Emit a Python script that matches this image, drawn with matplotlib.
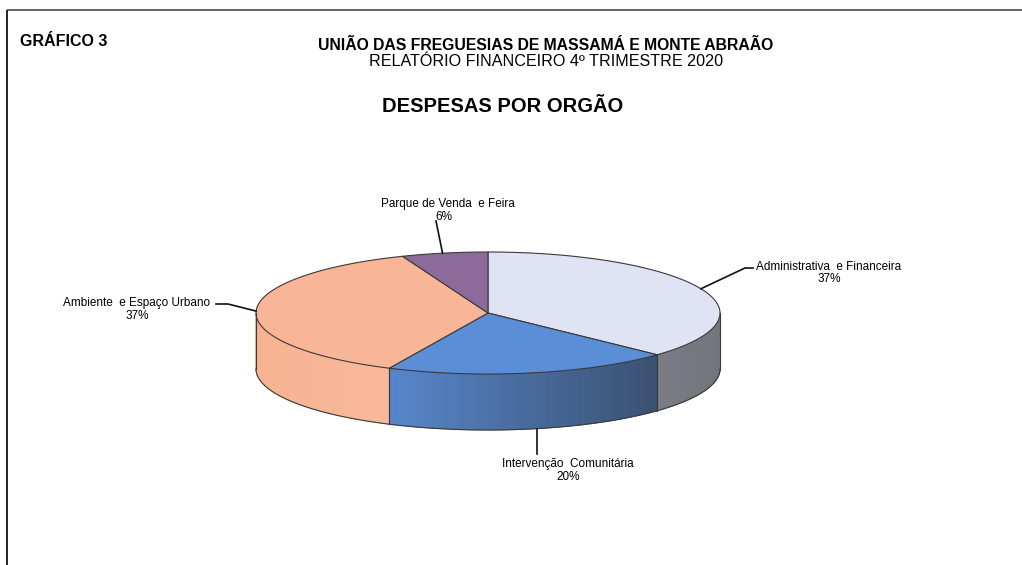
import numpy as np
import matplotlib
matplotlib.use("Agg")
import matplotlib.pyplot as plt
from matplotlib.patches import Polygon
from matplotlib.colors import to_rgb

# Expense shares by department (%)
labels = ["Administrativa  e Financeira", "Intervenção  Comunitária",
          "Ambiente  e Espaço Urbano", "Parque de Venda  e Feira"]
shares = [37, 20, 37, 6]
pct_labels = ["37%", "20%", "37%", "6%"]

top_colors = ["#dfe3f4", "#5a8fd7", "#f8b598", "#8c6b9a"]
# (left, right) colours of each slice's outer wall
side_colors = [("#7c7c86", "#74747c"), ("#5686cc", "#3a5070"),
               ("#f6b392", "#f8b99a"), ("#6e5078", "#6e5078")]

plt.rcParams["font.family"] = ["Liberation Sans", "DejaVu Sans"]

W, H = 1022, 565
fig = plt.figure(figsize=(W / 100, H / 100), dpi=100)
ax = fig.add_axes([0, 0, 1, 1])
ax.set_xlim(0, W)
ax.set_ylim(H, 0)
ax.axis("off")

# frame
ax.plot([7, W], [10, 10], color="#666666", lw=1.4, solid_capstyle="butt")
ax.plot([7, 7], [10, H], color="#222222", lw=1.4, solid_capstyle="butt")

# titles
ax.text(20, 41, "GRÁFICO 3", fontsize=11.5, fontweight="bold", ha="left", va="center")
ax.text(546, 46, "UNIÃO DAS FREGUESIAS DE MASSAMÁ E MONTE ABRAÃO", fontsize=11.3,
        fontweight="bold", ha="center", va="center")
ax.text(546, 62, "RELATÓRIO FINANCEIRO 4º TRIMESTRE 2020", fontsize=11.6,
        ha="center", va="center")
ax.text(503, 107, "DESPESAS POR ORGÃO", fontsize=14.5, fontweight="bold",
        ha="center", va="center")

# 3D pie geometry
cx, cy, a, b, depth = 488, 313, 232, 61, 56
edge = "#3a3a3a"


def ell(t_deg):
    t = np.radians(t_deg)
    return cx + a * np.cos(t), cy - b * np.sin(t)


total = float(sum(shares))
bounds = 90 - np.concatenate([[0], np.cumsum(shares)]) / total * 360

# outer walls (front half only: angles in [-180, 0])
for i in range(len(shares)):
    t1, t2 = bounds[i], bounds[i + 1]
    lo, hi = max(t2, -180), min(t1, 0)
    if hi <= lo:
        continue
    ts = np.linspace(lo, hi, 120)
    cl, cr = np.array(to_rgb(side_colors[i][0])), np.array(to_rgb(side_colors[i][1]))
    for k in range(len(ts) - 1):
        xa, ya = ell(ts[k])
        xb, yb = ell(ts[k + 1])
        xm = (xa + xb) / 2
        xl, _ = ell(lo)
        xr, _ = ell(hi)
        f = (xm - min(xl, xr)) / abs(xr - xl)
        col = cl * (1 - f) + cr * f
        ax.add_patch(Polygon([(xa, ya), (xb, yb), (xb, yb + depth), (xa, ya + depth)],
                             closed=True, facecolor=col, edgecolor=col, lw=0.6))
    xs, ys = ell(ts)
    ax.plot(xs, ys + depth, color=edge, lw=0.8)
    for tt in (lo, hi):
        x0, y0 = ell(tt)
        ax.plot([x0, x0], [y0, y0 + depth], color=edge, lw=0.8)

# top faces
for i in range(len(shares)):
    t1, t2 = bounds[i], bounds[i + 1]
    ts = np.linspace(t1, t2, 200)
    xs, ys = ell(ts)
    pts = [(cx, cy)] + list(zip(xs, ys))
    ax.add_patch(Polygon(pts, closed=True, facecolor=top_colors[i],
                         edgecolor=edge, lw=0.8, joinstyle="round"))

# labels with leader lines
mids = (bounds[:-1] + bounds[1:]) / 2
lab_fs = 8.5

# Administrativa e Financeira
x0, y0 = ell(mids[0])
ax.plot([x0, 745, 753], [y0, 268, 268], color="#111111", lw=1.2)
ax.text(829, 267, labels[0], fontsize=lab_fs, ha="center", va="center")
ax.text(829, 279, pct_labels[0], fontsize=lab_fs, ha="center", va="center")

# Intervenção Comunitária
x0, y0 = ell(mids[1])
ax.plot([x0 + 6, x0 + 6], [y0 + depth, 454], color="#111111", lw=1.2)
ax.text(568, 464, labels[1], fontsize=lab_fs, ha="center", va="center")
ax.text(568, 477, pct_labels[1], fontsize=lab_fs, ha="center", va="center")

# Ambiente e Espaço Urbano
x0, y0 = ell(mids[2])
ax.plot([216, 228, x0], [304, 304, y0], color="#111111", lw=1.2)
ax.text(137, 303, labels[2], fontsize=lab_fs, ha="center", va="center")
ax.text(137, 316, pct_labels[2], fontsize=lab_fs, ha="center", va="center")

# Parque de Venda e Feira
x0, y0 = ell(mids[3])
ax.plot([436, x0 - 2], [221, y0], color="#111111", lw=1.2)
ax.text(448, 204, labels[3], fontsize=lab_fs, ha="center", va="center")
ax.text(444, 217, pct_labels[3], fontsize=lab_fs, ha="center", va="center")

fig.savefig("out.png", dpi=100)
